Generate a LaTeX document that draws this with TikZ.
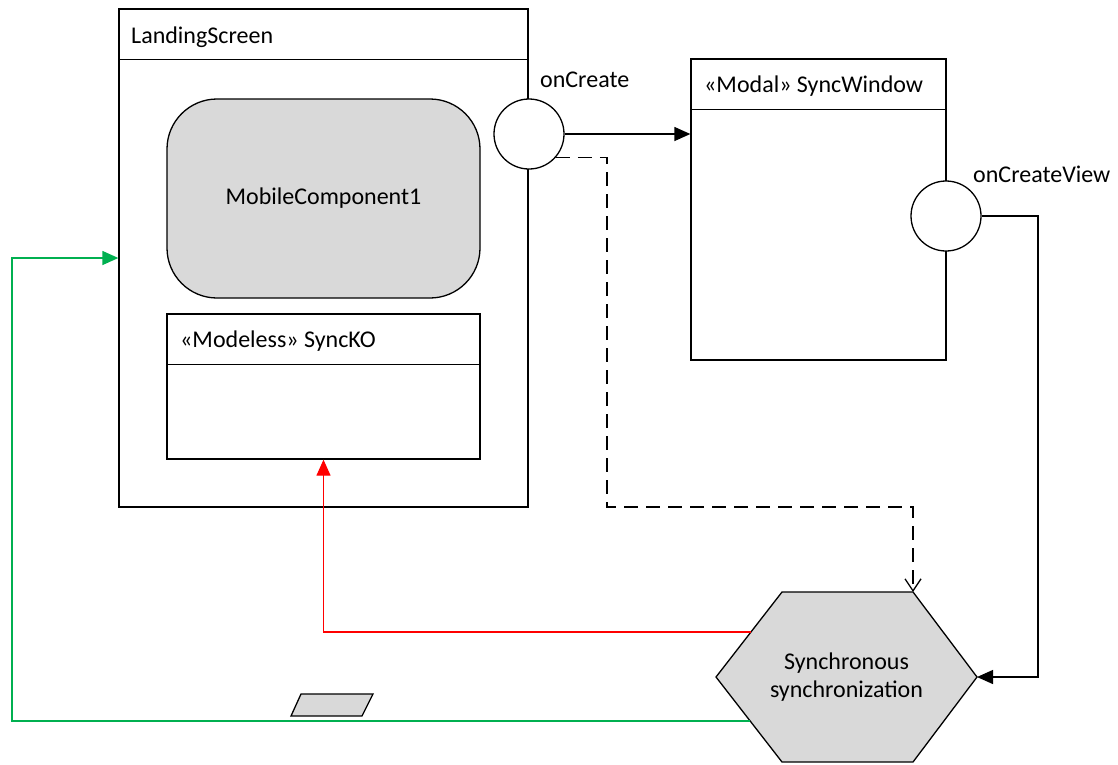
\documentclass[tikz,border=0pt]{standalone}
\usepackage{fontspec}
\setmainfont{Carlito}
\usetikzlibrary{arrows.meta}

\definecolor{boxgray}{HTML}{D9D9D9}
\definecolor{flowgreen}{HTML}{00B050}

\tikzset{
  box/.style={draw, line width=1.3pt, inner sep=0pt},
  port/.style={draw, fill=white, circle, line width=1.3pt, minimum size=70pt, inner sep=0pt},
  title/.style={anchor=base west, inner sep=0pt},
  flow/.style={line width=1.3pt, -{Triangle[length=16pt,width=14pt]}},
  dashflow/.style={line width=1.3pt, dash pattern=on 14pt off 8pt, -{Straight Barb[length=12pt,width=16pt]}},
  redflow/.style={flow, red},
  greenflow/.style={flow, flowgreen}
}

\begin{document}
\begin{tikzpicture}[x=1pt, y=-1pt, font=\fontsize{24}{28}\selectfont]
    \useasboundingbox (0,0) rectangle (1118,764);

    % draw screens
    \node[box, minimum width=409pt, minimum height=498pt] (landing) at (323.5,258) {};
    \draw[line width=1.3pt] (landing.north west) ++(0,51) -- ++(409,0);
    \node[title] (landingtitle) at (131,43) {LandingScreen};

    \node[box, fill=boxgray, rounded corners=50pt, minimum width=313pt, minimum height=199pt] (mobile) at (323.5,198.5) {MobileComponent1};

    \node[box, minimum width=313pt, minimum height=145pt] (syncko) at (323.5,386.5) {};
    \draw[line width=1.3pt] (syncko.north west) ++(0,51) -- ++(313,0);
    \node[title] (synckotitle) at (180,347) {«Modeless» SyncKO};

    \node[box, minimum width=255pt, minimum height=301pt] (syncwindow) at (818.5,209.5) {};
    \draw[line width=1.3pt] (syncwindow.north west) ++(0,51) -- ++(255,0);
    \node[title] (syncwindowtitle) at (704,92) {«Modal» SyncWindow};

    % draw ports
    \node[port] (oncreate) at (529,134) {};
    \node[title] (oncreatelabel) at (540,87) {onCreate};
    \node[port] (oncreateview) at (946,216) {};
    \node[title] (oncreateviewlabel) at (973,182) {onCreateView};

    % draw hexagon
    \draw[line width=1.3pt, fill=boxgray] (716,677) coordinate (hexW)
      -- (782,592) -- (913,592) coordinate (hexNE)
      -- (977,677) coordinate (hexE)
      -- (913,762) -- (782,762) -- cycle;
    \node[align=center] (sync) at (846.5,677) {Synchronous\\synchronization};
    \coordinate (redstart) at (751,632);
    \coordinate (greenstart) at (750,721);

    % draw message
    \draw[line width=1.3pt, fill=boxgray] (291,716) -- (301,694) -- (373,694) -- (362,716) -- cycle;

    % draw connectors
    \coordinate (dashbend) at (607,507);
    \coordinate (viewbend) at (1038,216);
    \coordinate (greenbend) at (12,721);
    \draw[flow] (oncreate.east) -- (syncwindow.west |- oncreate.east);
    \draw[dashflow] (oncreate.-41) -| (dashbend) -| (hexNE);
    \draw[flow] (oncreateview.east) -- (viewbend) |- (hexE);
    \draw[redflow] (redstart) -| (syncko.south);
    \draw[greenflow] (greenstart) -- (greenbend) |- (landing.west);

  \end{tikzpicture}
\end{document}
